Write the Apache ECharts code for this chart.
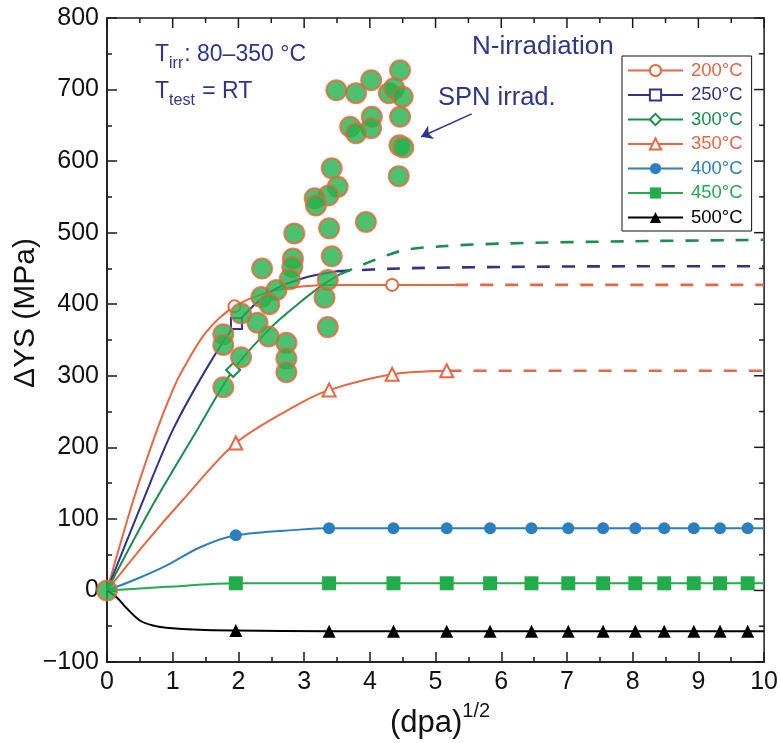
<!DOCTYPE html>
<html>
<head>
<meta charset="utf-8">
<title>ΔYS vs (dpa)^1/2</title>
<script src="https://cdn.jsdelivr.net/npm/echarts@6/dist/echarts.min.js"></script>
<style>
  html, body { margin: 0; padding: 0; background: #fff; }
  #chart { width: 781px; height: 743px; }
</style>
</head>
<body>
<div id="chart"></div>
<script>
// ---- data ----
const xTicks = [0, 1, 2, 3, 4, 5, 6, 7, 8, 9, 10];
const yTicks = [-100, 0, 100, 200, 300, 400, 500, 600, 700, 800];

// fit curves (solid part), [sqrt(dpa), ΔYS]
const curve200 = [[0, 0], [0.4, 126], [0.76, 224], [1.0, 280], [1.15, 308], [1.5, 360], [2.5, 418], [3.0, 425], [3.5, 427], [5.3, 427]];
const marks200 = [[1.94, 397], [4.34, 427]];
const dash200 = [[5.3, 427], [10, 427]];

const curve250 = [[0, 0], [0.55, 126], [1.0, 224], [1.56, 317], [2.5, 418], [2.97, 436], [3.5, 446]];
const marks250 = [[1.97, 373]];
const dash250 = [[3.5, 446], [4.45, 450], [6, 452], [8, 453], [10, 453]];

const curve300 = [[0, 0], [0.7, 120], [1.37, 224], [2.5, 368], [2.93, 402], [3.3, 428], [3.55, 442]];
const marks300 = [[1.92, 308]];
const dash300 = [[3.55, 442], [4.45, 474], [5.1, 481], [6.1, 485], [8.0, 488], [10, 490]];

const curve350 = [[0, 0], [0.6, 68], [1.15, 126], [2.93, 261]];
const marks350 = [[1.96, 206], [3.38, 280], [4.34, 302], [5.17, 307]];
const dash350 = [[5.2, 307], [10, 307]];

// long-term series share the same dose points
const markX = [1.96, 3.38, 4.36, 5.17, 5.83, 6.46, 7.02, 7.55, 8.04, 8.48, 8.93, 9.33, 9.75];
const ys400 = [77, 87, 87, 87, 87, 87, 87, 87, 87, 87, 87, 87, 87];
const ys450 = [10, 10, 10, 10, 10, 10, 10, 10, 10, 10, 10, 10, 10];
const ys500 = [-56, -57, -57, -57, -57, -57, -57, -57, -57, -57, -57, -57, -57];
const curve400 = [[0, 0], [0.45, 16], [0.91, 35], [1.41, 60], [2.93, 85], [10, 87]];
const curve450 = [[0, 0], [0.9, 5], [10, 10]];
const curve500 = [[0, 0], [0.15, -10], [0.3, -25], [0.5, -42], [0.7, -49], [0.9, -52], [1.4, -55], [10, -57]];

// SPN irradiation results
const spnX = [0, 3.49, 3.79, 4.02, 4.46, 4.29, 4.37, 4.50, 4.46, 4.03, 4.02, 3.70, 3.79, 4.45, 4.51, 4.44,
  3.42, 3.51, 3.37, 3.16, 3.18, 3.94, 3.38, 2.85, 3.42, 2.83, 2.82, 2.36, 2.78, 3.36, 2.58, 2.35, 2.47,
  3.31, 2.04, 2.29, 1.77, 1.77, 2.46, 2.73, 2.73, 2.73, 2.04, 3.36, 1.77];
const spnY = [0, 699, 695, 713, 727, 695, 702, 690, 662, 662, 646, 648, 639, 622, 619, 579,
  590, 564, 552, 548, 538, 515, 506, 499, 467, 464, 452, 450, 435, 434, 420, 410, 400,
  409, 387, 374, 358, 343, 355, 346, 324, 305, 326, 368, 284];

const names = ['200°C', '250°C', '300°C', '350°C', '400°C', '450°C', '500°C'];

// ---- styling ----
const FONT = '"Liberation Sans", Arial, Helvetica, sans-serif';
const C = {
  orange: '#ea6540',
  navy: '#2e348e',
  green: '#16904c',
  blue: '#2a7fc0',
  bright: '#22ad4c',
  black: '#000000',
  spnFill: '#22b24c',
  spnEdge: '#e9643a',
  text: '#2e3590',
  axis: '#1a1a1a'
};

const X_MIN = xTicks[0], X_MAX = xTicks[xTicks.length - 1];
const Y_MIN = yTicks[0], Y_MAX = yTicks[yTicks.length - 1];

function merge(curve, marks) {
  const pts = curve.map(p => ({ value: p, symbol: 'none' }))
    .concat(marks.map(p => ({ value: p })));
  pts.sort((a, b) => a.value[0] - b.value[0]);
  return pts;
}

function fitSeries(name, color, symbol, size, data) {
  return {
    name: name, type: 'line', data: data,
    smooth: 0.3,
    symbol: symbol, symbolSize: size, showAllSymbol: true,
    lineStyle: { color: color, width: 2 },
    itemStyle: { color: color, borderWidth: 1.5 },
    z: 3, silent: true
  };
}

function dashSeries(color, data) {
  return {
    type: 'line', data: data, smooth: 0.3,
    symbol: 'none',
    lineStyle: { color: color, width: 2.6, type: [13, 12] },
    z: 2, silent: true
  };
}

const zip = (xs, ys) => xs.map((x, i) => [x, ys[i]]);

// mirrored tick marks along the top and right frame edges (major + half-step minor)
function withHalfSteps(ticks) {
  const out = [];
  ticks.forEach((t, i) => {
    out.push({ v: t, major: true });
    if (i < ticks.length - 1) out.push({ v: (t + ticks[i + 1]) / 2, major: false });
  });
  return out;
}
const topTickData = withHalfSteps(xTicks).map(t => [t.v, Y_MAX, t.major ? 10 : 5]);
const rightTickData = withHalfSteps(yTicks).map(t => [X_MAX, t.v, t.major ? 10 : 5]);

function frameTicks(data, side) {
  return {
    type: 'custom', data: data, silent: true, clip: false, z: 6,
    encode: { x: 0, y: 1 },
    renderItem: function (params, api) {
      const p = api.coord([api.value(0), api.value(1)]);
      const len = api.value(2);
      const shape = side === 'top'
        ? { x1: p[0], y1: p[1], x2: p[0], y2: p[1] + len }
        : { x1: p[0], y1: p[1], x2: p[0] - len, y2: p[1] };
      return { type: 'line', shape: shape, style: { stroke: C.axis, lineWidth: 1.5 } };
    }
  };
}

const series = [
  dashSeries(C.orange, dash200),
  dashSeries(C.navy, dash250),
  dashSeries(C.green, dash300),
  dashSeries(C.orange, dash350),
  fitSeries(names[0], C.orange, 'emptyCircle', 12, merge(curve200, marks200)),
  fitSeries(names[1], C.navy, 'emptyRect', 11, merge(curve250, marks250)),
  fitSeries(names[2], C.green, 'emptyDiamond', 14, merge(curve300, marks300)),
  fitSeries(names[3], C.orange, 'emptyTriangle', 13, merge(curve350, marks350)),
  fitSeries(names[4], C.blue, 'circle', 12, merge(curve400, zip(markX, ys400))),
  fitSeries(names[5], C.bright, 'rect', 14, merge(curve450, zip(markX, ys450))),
  fitSeries(names[6], C.black, 'triangle', 13, merge(curve500, zip(markX, ys500))),
  {
    name: 'SPN', type: 'scatter', data: zip(spnX, spnY),
    symbol: 'circle', symbolSize: 20,
    itemStyle: { color: C.spnFill, borderColor: C.spnEdge, borderWidth: 2 },
    z: 5, silent: true,
    markLine: {
      silent: true, symbol: ['none', 'arrow'], symbolSize: 11,
      lineStyle: { color: C.text, width: 1.6, type: 'solid' },
      label: { show: false },
      data: [[{ coord: [5.55, 666] }, { coord: [4.78, 634] }]]
    }
  },
  frameTicks(topTickData, 'top'),
  frameTicks(rightTickData, 'right')
];

const legendColors = [C.orange, C.navy, C.green, C.orange, C.blue, C.bright, C.black];

const tickStyle = { show: true, inside: true, length: 10, lineStyle: { color: C.axis, width: 1.5 } };
const minorStyle = { show: true, splitNumber: 2, length: 5, lineStyle: { color: C.axis, width: 1.5 } };
const lineAx = { show: true, onZero: false, lineStyle: { color: C.axis, width: 1.5 } };

const chart = echarts.init(document.getElementById('chart'), null, { renderer: 'canvas' });
chart.setOption({
  animation: false,
  backgroundColor: '#ffffff',
  grid: {
    left: 107, right: 15, top: 18, bottom: 81, containLabel: false,
    show: true, borderColor: C.axis, borderWidth: 1.5, backgroundColor: 'transparent'
  },
  xAxis: {
    type: 'value', min: X_MIN, max: X_MAX, interval: 1,
    position: 'bottom', axisLine: lineAx, axisTick: tickStyle, minorTick: minorStyle,
    splitLine: { show: false },
    axisLabel: { color: '#111', fontSize: 25, fontFamily: FONT, margin: 8 }
  },
  yAxis: {
    type: 'value', min: Y_MIN, max: Y_MAX, interval: 100,
    position: 'left', axisLine: lineAx, axisTick: tickStyle, minorTick: minorStyle,
    splitLine: { show: false },
    axisLabel: {
      color: '#111', fontSize: 25, fontFamily: FONT, margin: 8,
      formatter: v => String(v).replace('-', '\u2212')
    }
  },
  legend: {
    orient: 'vertical', left: 622, top: 56,
    itemWidth: 55, itemHeight: 14, itemGap: 5.5,
    padding: [5, 9, 4, 5],
    borderColor: '#111', borderWidth: 1, backgroundColor: '#fff',
    selectedMode: false,
    textStyle: { fontSize: 18.5, fontFamily: FONT, padding: [0, 0, 0, 3] },
    data: names.map((n, i) => ({ name: n, textStyle: { color: legendColors[i] } }))
  },
  series: series,
  graphic: [
    {
      type: 'text', x: 155, y: 56,
      style: {
        text: '{m|T}{s|irr}{m|: 80\u2013350 °C}',
        verticalAlign: 'middle', align: 'left',
        rich: {
          m: { fontSize: 23, fontFamily: FONT, fill: C.text, lineHeight: 26, verticalAlign: 'top' },
          s: { fontSize: 16, fontFamily: FONT, fill: C.text, lineHeight: 16, padding: [13, 1, 0, 0], verticalAlign: 'top' }
        }
      }
    },
    {
      type: 'text', x: 155, y: 93,
      style: {
        text: '{m|T}{s|test}{m| = RT}',
        verticalAlign: 'middle', align: 'left',
        rich: {
          m: { fontSize: 23, fontFamily: FONT, fill: C.text, lineHeight: 26, verticalAlign: 'top' },
          s: { fontSize: 16, fontFamily: FONT, fill: C.text, lineHeight: 16, padding: [13, 1, 0, 0], verticalAlign: 'top' }
        }
      }
    },
    {
      type: 'text', x: 472, y: 47,
      style: { text: 'N-irradiation', fontSize: 26, fontFamily: FONT, fill: C.text, verticalAlign: 'middle', align: 'left' }
    },
    {
      type: 'text', x: 438, y: 98,
      style: { text: 'SPN irrad.', fontSize: 25.5, fontFamily: FONT, fill: C.text, verticalAlign: 'middle', align: 'left' }
    },
    {
      type: 'text', x: 26, y: 313, rotation: Math.PI / 2,
      style: { text: '\u0394YS (MPa)', fontSize: 30, fontFamily: FONT, fill: '#111', align: 'center', verticalAlign: 'middle' }
    },
    {
      type: 'text', x: 440, y: 718,
      style: {
        text: '{m|(dpa)}{s|1/2}',
        align: 'center', verticalAlign: 'middle',
        rich: {
          m: { fontSize: 31, fontFamily: FONT, fill: '#111', lineHeight: 34, verticalAlign: 'top', padding: [7, 0, 0, 0] },
          s: { fontSize: 20, fontFamily: FONT, fill: '#111', lineHeight: 20, verticalAlign: 'top' }
        }
      }
    }
  ]
});
</script>
</body>
</html>
